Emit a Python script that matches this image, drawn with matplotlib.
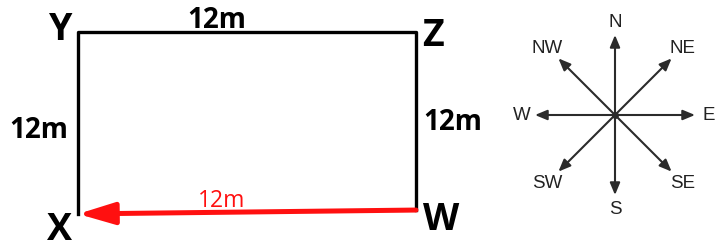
import numpy as np
import matplotlib
matplotlib.use("Agg")
import matplotlib.pyplot as plt

# ── 데이터 ────────────────────────────────────────────
side_lengths = [12, 12, 12, 12]          # XY, YZ, ZW, WX (m)
corner_names = ["X", "Y", "Z", "W"]
walk_label = "12m"                        # W -> X 이동
directions = ["E", "NE", "N", "NW", "W", "SW", "S", "SE"]
dir_angles = [0, 45, 90, 135, 180, 225, 270, 315]

W_PX, H_PX = 717, 253
fig = plt.figure(figsize=(W_PX / 100, H_PX / 100), dpi=100)
fig.patch.set_facecolor("white")

# ── 사각형 (미터 좌표) ──────────────────────────────────
left, right, top, bottom = 78, 416, 33, 213
ax = fig.add_axes([left / W_PX, 1 - bottom / H_PX,
                   (right - left) / W_PX, (bottom - top) / H_PX])
w = side_lengths[3]
h = side_lengths[0]
ax.set_xlim(0, w)
ax.set_ylim(0, h)
ax.axis("off")

tilt = 0.13
blk = dict(color="black", lw=2.4, solid_capstyle="projecting", clip_on=False)
ax.plot([0, 0, w, w], [-tilt, h, h, tilt], **blk)

# 빨간 화살표 W -> X
ax.annotate("", xy=(0, -tilt), xytext=(w, tilt),
            arrowprops=dict(arrowstyle="-|>,head_length=1.1,head_width=0.33",
                            color="#ff1010", lw=3.6, mutation_scale=20,
                            shrinkA=0, shrinkB=0),
            annotation_clip=False)

bold = dict(family=["Open Sans", "DejaVu Sans"], fontweight="bold",
            ha="center", va="center", clip_on=False)
corner_pos = {"X": (-0.64, -1.1), "Y": (-0.6, 12.2),
              "Z": (12.6, 11.8), "W": (12.9, -0.5)}
for name in corner_names:
    ax.text(*corner_pos[name], name, fontsize=27, **bold)

ax.text(w * 0.41, h + 0.8, f"{side_lengths[1]}m", fontsize=20, **bold)
ax.text(-1.4, 5.5, f"{side_lengths[0]}m", fontsize=20, **bold)
ax.text(w + 1.3, 6.05, f"{side_lengths[2]}m", fontsize=20, **bold)
ax.text(w * 0.425, 0.8, walk_label, fontsize=16.5, color="#ff1010",
        family=["Open Sans", "DejaVu Sans"], ha="center", va="center")

# ── 나침반 ────────────────────────────────────────────
cx, cy, r_px = 615, 116, 80
half = 110
cax = fig.add_axes([(cx - half) / W_PX, 1 - (cy + half) / H_PX,
                    2 * half / W_PX, 2 * half / H_PX])
lim = half / r_px
cax.set_xlim(-lim, lim)
cax.set_ylim(-lim, lim)
cax.axis("off")

gray = "#2b2b2b"
for name, ang in zip(directions, dir_angles):
    a = np.deg2rad(ang)
    cax.annotate("", xy=(np.cos(a), np.sin(a)), xytext=(0, 0),
                 arrowprops=dict(arrowstyle="-|>,head_length=0.6,head_width=0.25",
                                 color=gray, lw=1.5, mutation_scale=12,
                                 shrinkA=0, shrinkB=0))
    lr = 1.2 if len(name) == 2 else 1.17
    cax.text(lr * np.cos(a), lr * np.sin(a), name, fontsize=13.5, color="#222222",
             family=["Liberation Sans", "DejaVu Sans"], ha="center", va="center")
cax.plot([0], [0], "o", color=gray, ms=4)

fig.savefig("out.png", dpi=100, facecolor="white")
